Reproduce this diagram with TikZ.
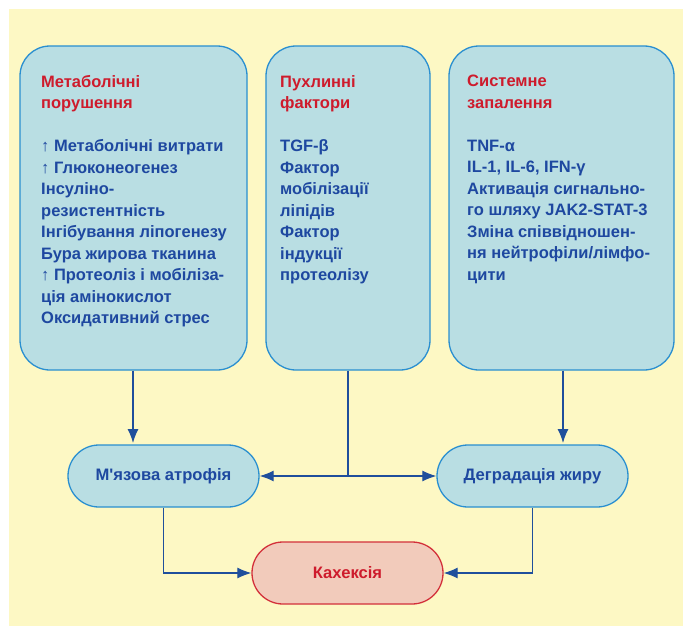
\documentclass[tikz,border=0pt]{standalone}
\usepackage{fontspec}
\setmainfont{Liberation Sans}[Ligatures=TeXOff]
\usetikzlibrary{arrows.meta}
\definecolor{bgc}{HTML}{FDF8C4}
\definecolor{boxfill}{HTML}{B9DEE3}
\definecolor{boxline}{HTML}{2A8FD0}
\definecolor{txtblue}{HTML}{1E48A0}
\definecolor{txtred}{HTML}{CE1B2C}
\definecolor{kfill}{HTML}{F2CBBB}
\definecolor{kline}{HTML}{D3303A}
\definecolor{arrc}{HTML}{1F4F9C}
\tikzset{
  bigbox/.style={draw=boxline, line width=1.3pt, fill=boxfill, rounded corners=30pt, minimum height=324pt, inner sep=0pt},
  pill/.style={draw=boxline, line width=1.3pt, fill=boxfill, rounded corners=31pt, minimum width=191pt, minimum height=62pt, inner sep=0pt, font=\fontsize{16.6}{20}\selectfont\bfseries, text=txtblue},
  kpill/.style={pill, draw=kline, fill=kfill, text=txtred},
  body/.style={anchor=north west, inner sep=0pt, align=left, text=txtblue, font=\fontsize{16.5}{21.5}\selectfont\bfseries},
  conn/.style={draw=arrc, line width=1.2pt},
  arr/.style={conn, -{Latex[length=14pt,width=11pt]}}
}
\begin{document}
\begin{tikzpicture}[x=1pt,y=-1pt]
\useasboundingbox (0,0) rectangle (683,626);
\fill[bgc] (9,9) rectangle (683,626);
% big boxes
\node[bigbox, minimum width=227pt] (b1) at (133.5,208) {};
\node[bigbox, minimum width=164pt] (b2) at (348,208) {};
\node[bigbox, minimum width=225pt] (b3) at (561.5,208) {};
% texts
\node[body] (t1) at (41,75) {\textcolor{txtred}{Метаболічні}\\\textcolor{txtred}{порушення}\\[21.5pt]
↑ Метаболічні витрати\\↑ Глюконеогенез\\Інсуліно-\\резистентність\\Інгібування ліпогенезу\\Бура жирова тканина\\↑ Протеоліз і мобіліза-\\ція амінокислот\\Оксидативний стрес};
\node[body] (t2) at (280,75) {\textcolor{txtred}{Пухлинні}\\\textcolor{txtred}{фактори}\\[21.5pt]
TGF-β\\Фактор\\мобілізації\\ліпідів\\Фактор\\індукції\\протеолізу};
\node[body] (t3) at (467,75) {\textcolor{txtred}{Системне}\\\textcolor{txtred}{запалення}\\[21.5pt]
TNF-α\\IL-1, IL-6, IFN-γ\\Активація сигнально-\\го шляху JAK2-STAT-3\\Зміна співвідношен-\\ня нейтрофіли/лімфо-\\цити};
% pills
\node[pill] (atr) at (163.5,476) {М'язова атрофія};
\node[pill] (deg) at (532.5,476) {Деградація жиру};
\node[kpill] (kax) at (347.5,573) {Кахексія};
% connectors
\draw[arr] (b1.south -| 133,0) -- (133,443);
\coordinate (j) at (b2.south |- atr.east);
\draw[conn] (b2.south) -- (j);
\draw[arr] (j) -- (atr.east);
\draw[arr] (j) -- (deg.west);
\draw[arr] (b3.south -| 563,0) -- (563,443);
\draw[arr] (atr.south) |- (kax.west);
\draw[arr] (deg.south) |- (kax.east);
\end{tikzpicture}
\end{document}
